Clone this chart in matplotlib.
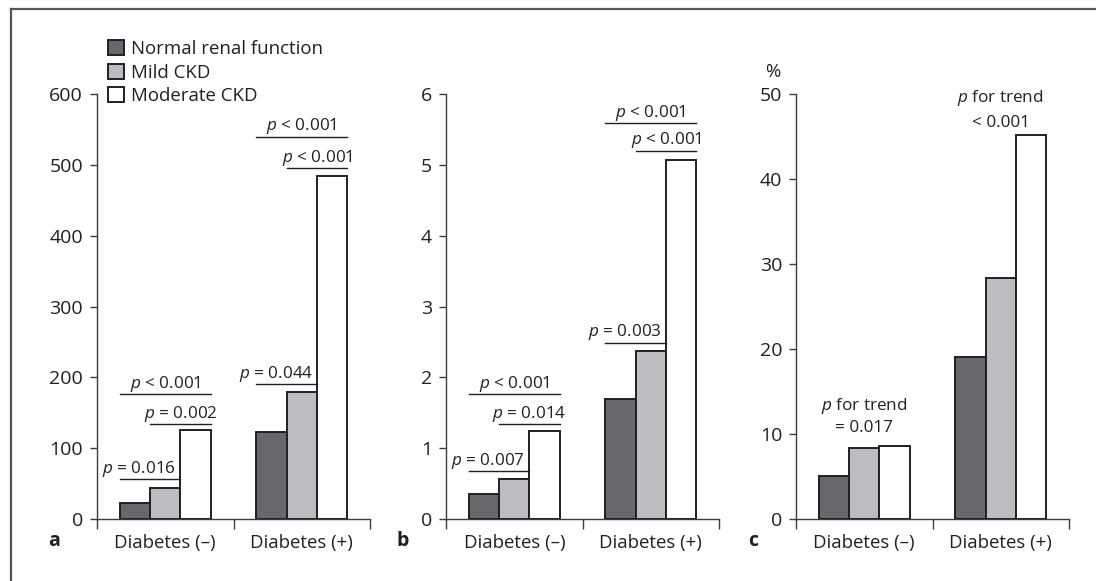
import matplotlib
matplotlib.use("Agg")
import matplotlib.pyplot as plt
from matplotlib.patches import Patch
from matplotlib.lines import Line2D
import numpy as np

plt.rcParams['font.family'] = ['Open Sans', 'DejaVu Sans']
plt.rcParams['mathtext.fontset'] = 'custom'
plt.rcParams['mathtext.it'] = 'Open Sans:italic'
plt.rcParams['mathtext.rm'] = 'Open Sans'

# data
groups = ['Diabetes (–)', 'Diabetes (+)']
series = ['Normal renal function', 'Mild CKD', 'Moderate CKD']
colors = ['#67686c', '#bcbdc1', '#ffffff']

vals_a = [[23, 123.5], [44, 179], [125, 484]]
vals_b = [[0.35, 1.69], [0.565, 2.37], [1.24, 5.07]]
vals_c = [[5.06, 19.1], [8.4, 28.3], [8.6, 45.2]]

# significance brackets: (group, first bar, last bar, height, label, text shift)
sig_a = [(0, 0, 1, 56, '$p$ = 0.016', -0.085), (0, 1, 2, 134, '$p$ = 0.002', 0.0),
         (0, 0, 2, 176, '$p$ < 0.001', 0.0), (1, 0, 1, 190.5, '$p$ = 0.044', -0.075),
         (1, 1, 2, 495, '$p$ < 0.001', 0.0), (1, 0, 2, 540, '$p$ < 0.001', 0.0)]
sig_b = [(0, 0, 1, 0.68, '$p$ = 0.007', -0.085), (0, 1, 2, 1.34, '$p$ = 0.014', 0.0),
         (0, 0, 2, 1.76, '$p$ < 0.001', 0.0), (1, 0, 1, 2.49, '$p$ = 0.003', -0.075),
         (1, 1, 2, 5.2, '$p$ < 0.001', 0.0), (1, 0, 2, 5.59, '$p$ < 0.001', 0.0)]
trend_c = [(0, '$p$ for trend\n= 0.017', 7, 1.35), (1, '$p$ for trend\n< 0.001', 3, 1.55)]

W, H = 1096, 581
fig = plt.figure(figsize=(W / 100, H / 100), dpi=100)

width = 0.223
centers = np.array([0.5, 1.5])
edge = '#231f20'


def make_panel(left_px, vals, ymax, yticks, letter):
    ax = fig.add_axes([left_px / W, (H - 519) / H, 273 / W, 425 / H])
    for i, v in enumerate(vals):
        ax.bar(centers + (i - 1) * width, v, width=width, color=colors[i],
               edgecolor=edge, linewidth=1.4, zorder=3)
    ax.set_xlim(0, 2)
    ax.set_ylim(0, ymax)
    ax.set_yticks(yticks)
    ax.set_xticks(centers)
    ax.set_xticklabels(groups)
    ax.set_xticks([0, 1, 2], minor=True)
    ax.tick_params(axis='x', which='major', length=0, pad=10.5, labelsize=13.4, colors='#231f20')
    ax.tick_params(axis='x', which='minor', length=7, width=1, color='#3c3c3c')
    ax.tick_params(axis='y', length=5, width=1, pad=5, labelsize=14, color='#3c3c3c',
                   labelcolor='#231f20')
    for s in ['top', 'right']:
        ax.spines[s].set_visible(False)
    for s in ['left', 'bottom']:
        ax.spines[s].set_color('#3c3c3c')
        ax.spines[s].set_linewidth(1)
    ax.text(-0.158, -0.052, letter, transform=ax.transAxes, fontsize=14,
            fontweight='bold', ha='center', va='center', color='#231f20')
    return ax


def bar_edge(g, b, side):
    return centers[g] + (b - 1) * width + side * width / 2


def add_sig(ax, sigs):
    for g, b0, b1, y, label, shift in sigs:
        x0 = bar_edge(g, b0, -1)
        x1 = bar_edge(g, b1, 1)
        ax.plot([x0, x1], [y, y], color=edge, lw=1, zorder=4)
        ax.annotate(label, ((x0 + x1) / 2 + shift, y), xytext=(0, 4.5),
                    textcoords='offset points', ha='center', va='baseline',
                    fontsize=12.3, color='#231f20')


ax_a = make_panel(97, vals_a, 600, [0, 100, 200, 300, 400, 500, 600], 'a')
add_sig(ax_a, sig_a)
ax_b = make_panel(446, vals_b, 6, [0, 1, 2, 3, 4, 5, 6], 'b')
add_sig(ax_b, sig_b)
ax_c = make_panel(796, vals_c, 50, [0, 10, 20, 30, 40, 50], 'c')
for g, label, off, ls in trend_c:
    top = max(v[g] for v in vals_c)
    ax_c.annotate(label, (centers[g], top), xytext=(0, off), textcoords='offset points',
                  ha='center', va='bottom', fontsize=12.3, color='#231f20',
                  linespacing=ls)
ax_c.text(-0.085, 1.03, '%', transform=ax_c.transAxes, fontsize=13.4, ha='center',
          va='bottom', color='#231f20')

# legend
handles = [Patch(facecolor=c, edgecolor=edge, linewidth=1.4) for c in colors]
fig.legend(handles, series, loc='upper left', bbox_to_anchor=(108 / W, 1 - 40 / H),
           frameon=False, fontsize=13.4, handlelength=0.85, handleheight=0.85,
           handletextpad=0.4, labelspacing=0.3, borderpad=0, borderaxespad=0,
           labelcolor='#231f20')

# frame lines (top and left)
fig.add_artist(Line2D([11 / W, 1], [1 - 9 / H, 1 - 9 / H], color='#555555', lw=1.6))
fig.add_artist(Line2D([11 / W, 11 / W], [0, 1 - 9 / H], color='#555555', lw=1.6))

fig.savefig('out.png', dpi=100)
